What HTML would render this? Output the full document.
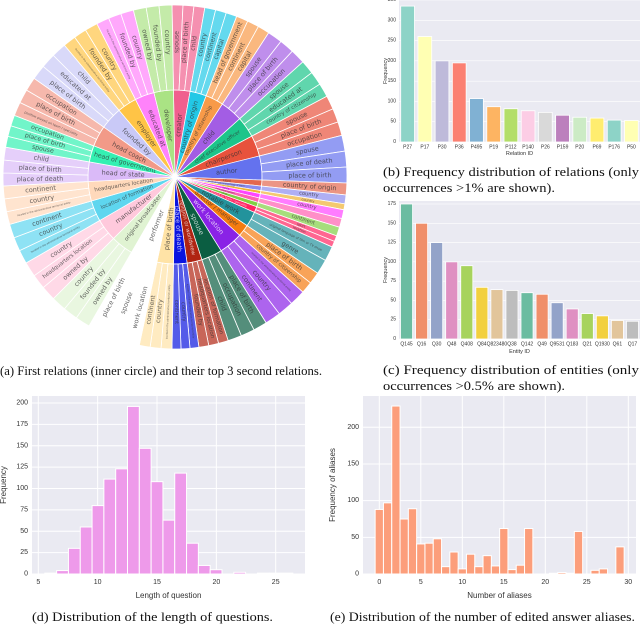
<!DOCTYPE html>
<html><head><meta charset="utf-8"><style>
html,body{margin:0;padding:0;background:#fff;}
svg{display:block;}
.cap{font-family:"Liberation Serif",serif;font-size:13px;fill:#111;}
.tk{font-family:"Liberation Sans",sans-serif;fill:#333;}
</style></head><body>
<svg id="fig" width="640" height="625" viewBox="0 0 640 625" xmlns="http://www.w3.org/2000/svg">
<g id="sun"></g>
<g id="chartB"></g>
<g id="chartC"></g>
<g id="chartD"></g>
<g id="chartE"></g>
<text class="cap" x="0" y="375" textLength="322" lengthAdjust="spacingAndGlyphs">(a) First relations (inner circle) and their top 3 second relations.</text>
<text class="cap" x="383" y="176" textLength="256" lengthAdjust="spacingAndGlyphs">(b) Frequency distribution of relations (only</text>
<text class="cap" x="383" y="192" textLength="172" lengthAdjust="spacingAndGlyphs">occurrences &gt;1% are shown).</text>
<text class="cap" x="383" y="374" textLength="256" lengthAdjust="spacingAndGlyphs">(c) Frequency distribution of entities (only</text>
<text class="cap" x="383" y="390" textLength="182" lengthAdjust="spacingAndGlyphs">occurrences &gt;0.5% are shown).</text>
<text class="cap" x="32" y="621" textLength="241" lengthAdjust="spacingAndGlyphs">(d) Distribution of the length of questions.</text>
<text class="cap" x="330" y="621" textLength="305" lengthAdjust="spacingAndGlyphs">(e) Distribution of the number of edited answer aliases.</text>
</svg>
<script>
// ---- Sunburst data ----
const innerLabels = ["creator","country of origin","country of citizenship","child","chief executive officer","chairperson","author","killed","located in or next to body of water","member of sports team","family","languages spoken","cause","position played on team / speciality","notable work","director / manager","work location","spouse","religion or worldview","place of death","place of birth","performer","original broadcaster","manufacturer","location of formation","headquarters location","head of state","head of government","head coach","founded by","employer","educated at","developer"];
const innerSpans = [11,11,12,15,14,14,16,4,3,2,3,3,3,4,10,8,16,14,10,9,11,18,15,15,14,13,13,11,14,15,13,13,13];
const innerColors = ["#f0608e","#22c8e6","#f89a48","#a35de4","#1cc58a","#e8523c","#6472ee","#e4684f","#8c8cef","#efb232","#ff44ff","#ff5fb0","#80d044","#ff2462","#23939c","#f57c10","#8a22e6","#0b5e42","#b02412","#0a14e0","#ffe3a6","#ffffff","#e0f3d2","#ffc9dc","#5ed6ef","#ffd9bb","#dabaf8","#34f0b2","#f29a88","#c9c9f7","#ffc446","#ff82fa","#aae384"];
const outerLabels = [
["spouse","place of birth","child"],["country","continent","capital"],["head of government","continent","capital"],
["spouse","place of birth","occupation"],["spouse","educated at","country of citizenship"],["spouse","place of birth","occupation"],
["spouse","place of death","place of birth"],["country of origin"],["country"],["country"],["country"],[""],["continent"],["sport","location"],
["original language of film or TV show","genre"],["place of birth","country of citizenship"],
["located in the administrative territorial entity","country","continent"],["place of birth","occupation","child"],
["location of formation","headquarters location","founded by"],["located in the administrative territorial entity","country","continent"],
["located in the administrative territorial entity","country","continent"],["work location","spouse","place of birth"],
["owned by","founded by","country"],["owned by","headquarters location","country"],
["located in the administrative territorial entity","country","continent"],["located in the administrative territorial entity","country","continent"],
["place of death","place of birth","child"],["spouse","place of birth","occupation"],
["position played on team / speciality","place of birth","occupation"],["place of birth","educated at","child"],
["located in the administrative territorial entity","founded by","country"],["located in the administrative territorial entity","founded by","country"],
["owned by","founded by","country"]];
const sunStart = -1;

// ---- Chart (b) data ----
const relIds = ["P27","P17","P30","P36","P495","P19","P112","P140","P26","P159","P20","P69","P176","P50"];
const relVals = [335,260,200,195,107,87,82,77,73,66,61,59,54,53];
const relTicks = [0,50,100,150,200,250,300,350];
// ---- Chart (c) data ----
const entIds = ["Q145","Q16","Q30","Q48","Q408","Q84","Q823480","Q38","Q142","Q49","Q9531","Q183","Q21","Q1930","Q61","Q17"];
const entVals = [175,150,125,100,95,67,64,63,60,58,47,39,33,30,24,23];
const entTicks = [0,25,50,75,100,125,150,175];
// ---- Chart (d) data ----
const qLenStart = 5.55;
const qLenWidth = 0.995;
const qLenCounts = [1,4,30,55,80,111,123,196,147,108,63,118,36,10,5,0,2,0,1,1,1];
const qYTicks = [0,25,50,75,100,125,150,175,200];
const qXTicks = [5,10,15,20,25];
// ---- Chart (e) data ----
const aliasCounts = [88,97,229,75,89,41,42,48,10,30,7,27,10,25,11,62,6,12,62,0,0,1,2,1,58,0,5,7,0,37];
const aYTicks = [0,50,100,150,200];
const aXTicks = [0,5,10,15,20,25,30];

const NS="http://www.w3.org/2000/svg";
function mk(tag, parent){const e=document.createElementNS(NS,tag);parent.appendChild(e);return e;}
function lighten(hex,f){const n=parseInt(hex.slice(1),16);let r=n>>16,g=(n>>8)&255,b=n&255;r=Math.round(r+(255-r)*f);g=Math.round(g+(255-g)*f);b=Math.round(b+(255-b)*f);return `rgb(${r},${g},${b})`;}
function lum(hex){const n=parseInt(hex.slice(1),16);return 0.299*(n>>16)+0.587*((n>>8)&255)+0.114*(n&255);}

// ---- Sunburst ----
(function(){
  const g=document.getElementById('sun');
  const cx=175, cy=177, r0=2, r1=87, r2=172;
  function pt(a,r){const t=a*Math.PI/180;return [cx+r*Math.sin(t), cy-r*Math.cos(t)];}
  function arc(a0,a1,ri,ro){const p0=pt(a0,ro),p1=pt(a1,ro),p2=pt(a1,ri),p3=pt(a0,ri);const lg=(a1-a0)>180?1:0;
    return `M${p0[0]},${p0[1]}A${ro},${ro} 0 ${lg} 1 ${p1[0]},${p1[1]}L${p2[0]},${p2[1]}A${ri},${ri} 0 ${lg} 0 ${p3[0]},${p3[1]}Z`;}
  function label(txt,a,r,fs,fill,name){
    const p=pt(a,r);const t=mk('text',g);
    
    
    let na=((a%360)+360)%360;const rot= na<=180? na-90 : na+90;
    t.setAttribute('x',p[0]);t.setAttribute('y',p[1]);
    t.setAttribute('transform',`rotate(${rot} ${p[0]} ${p[1]})`);
    t.setAttribute('text-anchor','middle');t.setAttribute('dominant-baseline','central');
    t.setAttribute('font-size',fs.toFixed(2));t.setAttribute('font-family','DejaVu Sans, sans-serif');
    t.setAttribute('fill',fill);t.textContent=txt;}
  let a=sunStart;
  innerSpans.forEach((s,i)=>{
    const a0=a,a1=a+s;a=a1;
    const col=innerColors[i];
    const p=mk('path',g);
    
    
    p.setAttribute('d',arc(a0,a1,r0,r1));p.setAttribute('fill',col);p.setAttribute('stroke','#fff');p.setAttribute('stroke-width','0.7');
    const kids=outerLabels[i];const ks=s/kids.length;
    kids.forEach((k,j)=>{
      const b0=a0+j*ks,b1=b0+ks;
      const q=mk('path',g);
      
      
      q.setAttribute('d',arc(b0,b1,r1,r2));q.setAttribute('fill',col==="#ffffff"?"#ffffff":lighten(col,0.3));
      q.setAttribute('stroke','#fff');q.setAttribute('stroke-width','0.8');
      if(k){const w=ks*Math.PI/180*140;const fs=Math.min(6.5,70/(k.length*0.6),w*0.7);
        label(k,(b0+b1)/2,135,fs,'rgba(50,50,50,0.75)','outer-label');}
    });
    const L=innerLabels[i];const w=s*Math.PI/180*55;const fs=Math.min(6.5,68/(L.length*0.6),w*0.75);
    label(L,(a0+a1)/2,52,fs,lum(col)<110?'rgba(255,255,255,0.75)':'rgba(50,50,50,0.75)','inner-label');
  });
})();

// ---- Generic bar chart ----
function barChart(gid,opt){
  const g=document.getElementById(gid);
  const bg=mk('rect',g);
  
  
  bg.setAttribute('x',opt.x0);bg.setAttribute('y',opt.y1);bg.setAttribute('width',opt.x1-opt.x0);bg.setAttribute('height',opt.y0-opt.y1);bg.setAttribute('fill','#eaeaf2');
  const ys=v=>opt.y0-(v-opt.ymin)/(opt.ymax-opt.ymin)*(opt.yTop-opt.y0)*-1;
  opt.yt.forEach(v=>{
    const y=ys(v);
    const l=mk('line',g);
    
    
    l.setAttribute('x1',opt.x0);l.setAttribute('x2',opt.x1);l.setAttribute('y1',y);l.setAttribute('y2',y);l.setAttribute('stroke','#fff');l.setAttribute('stroke-width',opt.gw);
    const t=mk('text',g);
    
    
    t.setAttribute('class','tk');t.setAttribute('x',opt.x0-opt.tp);t.setAttribute('y',y);t.setAttribute('font-size',opt.fs);
    t.setAttribute('text-anchor','end');t.setAttribute('dominant-baseline','central');t.textContent=v;
  });
  if(opt.xt){opt.xt.forEach(v=>{
    const x=opt.xs(v);
    const l=mk('line',g);
    
    
    l.setAttribute('x1',x);l.setAttribute('x2',x);l.setAttribute('y1',opt.y1);l.setAttribute('y2',opt.y0);l.setAttribute('stroke','#fff');l.setAttribute('stroke-width',opt.gw);
    const t=mk('text',g);
    
    
    t.setAttribute('class','tk');t.setAttribute('x',x);t.setAttribute('y',opt.y0+opt.fs+3);t.setAttribute('font-size',opt.fs);
    t.setAttribute('text-anchor','middle');t.textContent=v;
  });}
  opt.bars.forEach(b=>{
    const r=mk('rect',g);
    
    
    const y=ys(b.v);
    r.setAttribute('x',b.x);r.setAttribute('width',b.w);r.setAttribute('y',y);r.setAttribute('height',Math.max(0,opt.y0-y));
    r.setAttribute('fill',b.c);r.setAttribute('stroke','#fff');r.setAttribute('stroke-width',opt.bw);
    if(b.label!==undefined){const t=mk('text',g);
      
      
      t.setAttribute('class','tk');t.setAttribute('x',b.x+b.w/2);t.setAttribute('y',opt.y0+opt.fs+1.5);t.setAttribute('font-size',opt.fs);
      t.setAttribute('text-anchor','middle');t.textContent=b.label;}
  });
  const xt=mk('text',g);
  
  
  xt.setAttribute('class','tk');xt.setAttribute('x',(opt.x0+opt.x1)/2);xt.setAttribute('y',opt.xTitleY);xt.setAttribute('font-size',opt.tfs);xt.setAttribute('text-anchor','middle');xt.textContent=opt.xTitle;
  const yt=mk('text',g);
  
  
  const ym=(opt.y0+opt.y1)/2;
  yt.setAttribute('class','tk');yt.setAttribute('x',opt.yTitleX);yt.setAttribute('y',ym);yt.setAttribute('font-size',opt.tfs);yt.setAttribute('text-anchor','middle');
  yt.setAttribute('transform',`rotate(-90 ${opt.yTitleX} ${ym})`);yt.textContent=opt.yTitle;
}

// (b)
const set3=["#8dd3c7","#ffffb3","#bebada","#fb8072","#80b1d3","#fdb462","#b3de69","#fccde5","#d9d9d9","#bc80bd","#ccebc5","#ffed6f"];
(function(){const x0=399,x1=640,band=(x1-x0)/relIds.length;
 barChart('chartB',{x0,x1,y0:142,y1:0,ymin:0,ymax:350,yTop:0,yt:relTicks,fs:5,tp:3,gw:0.6,bw:0.8,tfs:5.5,
  xTitle:"Relation ID",xTitleY:155,yTitle:"Frequency",yTitleX:387,
  bars:relIds.map((id,i)=>({x:x0+i*band+band*0.1,w:band*0.8,v:relVals[i],c:set3[i%12],label:id}))});})();
// (c)
const set2=["#6bbca1","#f08f6a","#93a3c9","#df90c2","#a7d35d","#f2d03f","#e2c59b","#bdbdbd"];
(function(){const x0=399,x1=640,band=(x1-x0)/entIds.length;
 barChart('chartC',{x0,x1,y0:339,y1:201,ymin:0,ymax:175,yTop:204,yt:entTicks,fs:5,tp:3,gw:0.6,bw:0.8,tfs:5.5,
  xTitle:"Entity ID",xTitleY:353,yTitle:"Frequency",yTitleX:387,
  bars:entIds.map((id,i)=>({x:x0+i*band+band*0.1,w:band*0.8,v:entVals[i],c:set2[i%8],label:id}))});})();
// (d)
(function(){const xs=v=>38.3+(v-5)*11.87;
 barChart('chartD',{x0:32,x1:305,y0:574,y1:396,ymin:0,ymax:200,yTop:403,yt:qYTicks,xt:qXTicks,xs,fs:7,tp:4,gw:1,bw:1,tfs:8,
  xTitle:"Length of question",xTitleY:598,yTitle:"Frequency",yTitleX:6,
  bars:qLenCounts.map((c,i)=>({x:xs(qLenStart+i*qLenWidth),w:qLenWidth*11.87,v:c,c:"#ee9aea"}))});})();
// (e)
(function(){const xs=v=>379.3+v*8.3;
 barChart('chartE',{x0:363,x1:636,y0:574,y1:396,ymin:0,ymax:200,yTop:427.3,yt:aYTicks,xt:aXTicks,xs,fs:7,tp:4,gw:1,bw:1,tfs:8,
  xTitle:"Number of aliases",xTitleY:598,yTitle:"Frequency of aliases",yTitleX:335,
  bars:aliasCounts.map((c,i)=>({x:xs(i-0.5),w:8.3,v:c,c:"#fc9e7b"}))});})();
</script>
</body></html>
